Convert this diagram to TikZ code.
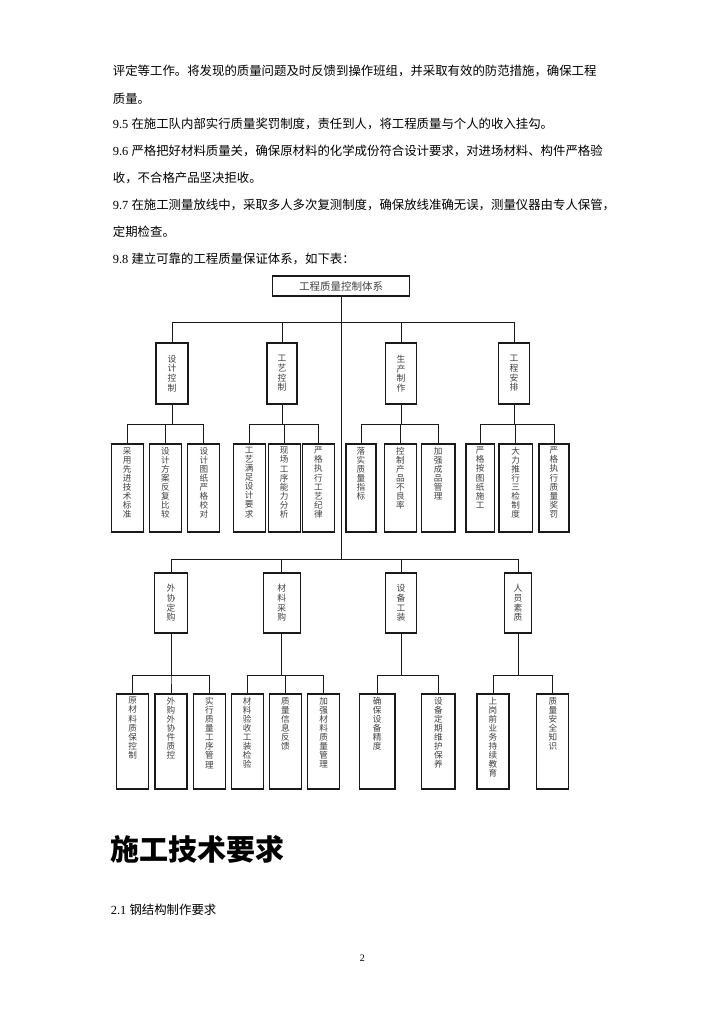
\documentclass[tikz,border=0pt]{standalone}
\usepackage{fontspec}
\setmainfont{Liberation Serif}
\newfontfamily\cjk{Noto Sans CJK SC}
\usepackage{tikz}
\usetikzlibrary{positioning}
\definecolor{ink}{HTML}{1A1A1A}
\definecolor{boxtext}{HTML}{404040}
% one character per line
\makeatletter
\newcommand\colchars[1]{\@colchars#1\@nil}
\def\@colchars#1#2\@nil{#1\ifx\relax#2\relax\expandafter\@gobble\else\expandafter\@firstofone\fi{\\\@colchars#2\@nil}}
\makeatother
\tikzset{
  headbox/.style={draw=ink, line width=1.3pt, minimum width=137pt, minimum height=20pt,
                  inner sep=0pt, font=\cjk\fontsize{10.5}{11}\selectfont, text=boxtext},
  groupbox/.style={draw=ink, line width=1.3pt, minimum width=32pt, minimum height=61pt,
                   inner sep=0pt, align=center, font=\cjk\fontsize{8.8}{9.6}\selectfont, text=boxtext},
  leafbox/.style={draw=ink, line width=1.3pt, minimum width=32pt, minimum height=88pt,
                  inner sep=0pt, label={[leaftext]north:\colchars{#1}}},
  leaftext/.style={anchor=north, inner sep=3.5pt, align=center,
                   font=\cjk\fontsize{8.6}{9.1}\selectfont, text=boxtext},
  tree/.style={draw=ink, line width=0.9pt},
  bodytext/.style={anchor=west, inner sep=0pt, font=\fontsize{12.4}{14}\selectfont}
}
\begin{document}
\begin{tikzpicture}[x=1pt,y=-1pt]
    \fill[white] (0,0) rectangle (724,1024);
    \useasboundingbox (0,0) rectangle (724,1024);

    % ===== running text =====
    \node[bodytext] (p1) at (112.7,71) {\cjk 评定等工作。将发现的质量问题及时反馈到操作班组，并采取有效的防范措施，确保工程};
    \node[bodytext] (p2) at (112.7,99) {\cjk 质量。};
    \node[bodytext] (p3) at (112.7,124) {9.5 {\cjk 在施工队内部实行质量奖罚制度，责任到人，将工程质量与个人的收入挂勾。}};
    \node[bodytext] (p4) at (112.7,151) {9.6 {\cjk 严格把好材料质量关，确保原材料的化学成份符合设计要求，对进场材料、构件严格验}};
    \node[bodytext] (p5) at (112.7,177.5) {\cjk 收，不合格产品坚决拒收。};
    \node[bodytext] (p6) at (112.7,205) {9.7 {\cjk 在施工测量放线中，采取多人多次复测制度，确保放线准确无误，测量仪器由专人保管，}};
    \node[bodytext] (p7) at (112.7,232) {\cjk 定期检查。};
    \node[bodytext] (p8) at (112.7,259) {9.8 {\cjk 建立可靠的工程质量保证体系，如下表：}};

    % ===== head and trunk =====
    \node[headbox] (top) at (341,286) {工程质量控制体系};
    \coordinate (bus1) at (341,322);
    \coordinate (bus2) at (341,559);
    \draw[tree] (top.south) -- (bus2);

    % ===== upper branches =====
    \node[groupbox] (sj) at (172,373.5) {\colchars{设计控制}};
    \node[groupbox, minimum width=30pt] (gy) at (282,373.5) {\colchars{工艺控制}};
    \node[groupbox, minimum width=31pt] (sc) at (401,373.5) {\colchars{生产制作}};
    \node[groupbox, minimum width=31pt] (ap) at (514,373.5) {\colchars{工程安排}};
    \draw[tree] (sj.north |- bus1) -- (ap.north |- bus1);
    \draw[tree] (sj.north) -- (sj.north |- bus1);
    \draw[tree] (gy.north) -- (gy.north |- bus1);
    \draw[tree] (sc.north) -- (sc.north |- bus1);
    \draw[tree] (ap.north) -- (ap.north |- bus1);

    \node[leafbox=采用先进技术标准] (l11) at (127.2,488) {};
    \node[leafbox=设计方案反复比较] (l12) at (165.5,488) {};
    \node[leafbox=设计图纸严格校对] (l13) at (203.8,488) {};
    \node[leafbox=工艺满足设计要求] (l21) at (249.2,488) {};
    \node[leafbox=现场工序能力分析] (l22) at (284.2,488) {};
    \node[leafbox=严格执行工艺纪律] (l23) at (318.5,488) {};
    \node[leafbox=落实质量指标, minimum width=30pt] (l31) at (361,488) {};
    \node[leafbox=控制产品不良率] (l32) at (400.3,488) {};
    \node[leafbox=加强成品管理, minimum width=33.5pt] (l33) at (438.2,488) {};
    \node[leafbox=严格按图纸施工, minimum width=28.5pt] (l41) at (480.2,488) {};
    \node[leafbox=大力推行三检制度, minimum width=33.5pt] (l42) at (515.7,488) {};
    \node[leafbox=严格执行质量奖罚, minimum width=30pt] (l43) at (554,488) {};

    \draw[tree] (sj.south) -- ++(0,20) -| (l11.north);
    \draw[tree] (sj.south) -- ++(0,20) -| (l12.north);
    \draw[tree] (sj.south) -- ++(0,20) -| (l13.north);
    \draw[tree] (gy.south) -- ++(0,20) -| (l21.north);
    \draw[tree] (gy.south) -- ++(0,20) -| (l22.north);
    \draw[tree] (gy.south) -- ++(0,20) -| (l23.north);
    \draw[tree] (sc.south) -- ++(0,20) -| (l31.north);
    \draw[tree] (sc.south) -- ++(0,20) -| (l32.north);
    \draw[tree] (sc.south) -- ++(0,20) -| (l33.north);
    \draw[tree] (ap.south) -- ++(0,20) -| (l41.north);
    \draw[tree] (ap.south) -- ++(0,20) -| (l42.north);
    \draw[tree] (ap.south) -- ++(0,20) -| (l43.north);

    % ===== lower branches =====
    \node[groupbox, minimum height=60pt, minimum width=33.5pt] (wx) at (171,603) {\colchars{外协定购}};
    \node[groupbox, minimum height=60pt, minimum width=37pt] (cl) at (281.8,603) {\colchars{材料采购}};
    \node[groupbox, minimum height=60pt, minimum width=31.5pt] (sb) at (401,603) {\colchars{设备工装}};
    \node[groupbox, minimum height=60pt, minimum width=27.5pt] (ry) at (518,603) {\colchars{人员素质}};
    \draw[tree] (wx.north |- bus2) -- (ry.north |- bus2);
    \draw[tree] (wx.north) -- (wx.north |- bus2);
    \draw[tree] (cl.north) -- (cl.north |- bus2);
    \draw[tree] (sb.north) -- (sb.north |- bus2);
    \draw[tree] (ry.north) -- (ry.north |- bus2);

    \node[leafbox=原材料质保控制, minimum height=95pt] (m11) at (132.7,741.5) {};
    \node[leafbox=外购外协件质控, minimum height=95pt] (m12) at (171,741.5) {};
    \node[leafbox=实行质量工序管理, minimum height=95pt] (m13) at (209.3,741.5) {};
    \node[leafbox=材料验收工装检验, minimum height=95pt] (m21) at (247.2,741.5) {};
    \node[leafbox=质量信息反馈, minimum height=95pt] (m22) at (285.5,741.5) {};
    \node[leafbox=加强材料质量管理, minimum height=95pt] (m23) at (323.7,741.5) {};
    \node[leafbox=确保设备精度, minimum height=95pt, minimum width=35.5pt] (m31) at (377.2,741.5) {};
    \node[leafbox=设备定期维护保养, minimum height=95pt, minimum width=33.5pt] (m32) at (438.3,741.5) {};
    \node[leafbox=上岗前业务持续教育, minimum height=95pt] (m41) at (493,741.5) {};
    \node[leafbox=质量安全知识, minimum height=95pt] (m42) at (552.8,741.5) {};

    \draw[tree] (wx.south) -- ++(0,42) -| (m11.north);
    \draw[tree] (wx.south) -- ++(0,42) -| (m12.north);
    \draw[tree] (wx.south) -- ++(0,42) -| (m13.north);
    \draw[tree] (cl.south) -- ++(0,42) -| (m21.north);
    \draw[tree] (cl.south) -- ++(0,42) -| (m22.north);
    \draw[tree] (cl.south) -- ++(0,42) -| (m23.north);
    \draw[tree] (sb.south) -- ++(0,42) -| (m31.north);
    \draw[tree] (sb.south) -- ++(0,42) -| (m32.north);
    \draw[tree] (ry.south) -- ++(0,42) -| (m41.north);
    \draw[tree] (ry.south) -- ++(0,42) -| (m42.north);

    % ===== section heading and page number =====
    \node[anchor=west, inner sep=0pt, font=\cjk\bfseries\fontsize{29}{32}\selectfont] (title) at (110,849) {施工技术要求};
    \node[bodytext] (sub) at (110.7,909.3) {2.1 {\cjk 钢结构制作要求}};
    \node[font=\fontsize{10}{12}\selectfont] (pg) at (362.3,958.3) {2};
  \end{tikzpicture}
\end{document}
